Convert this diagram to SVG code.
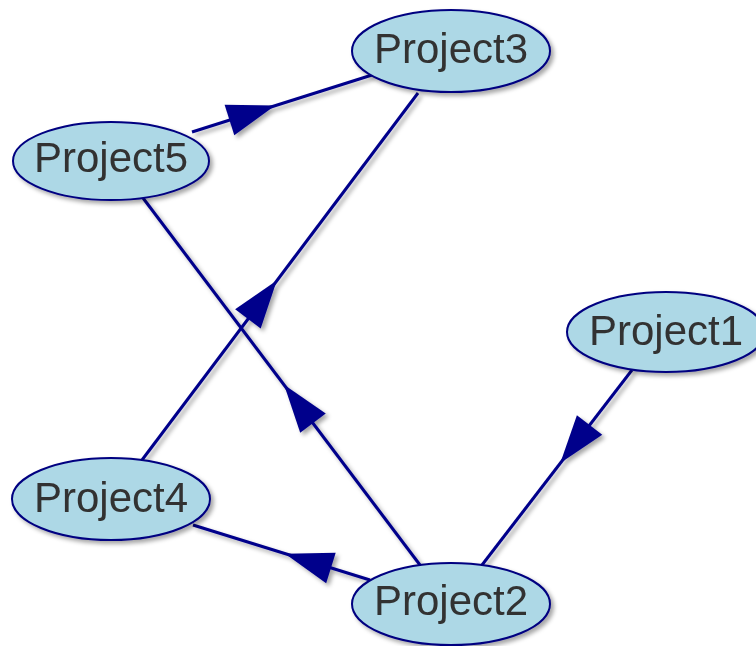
<svg xmlns="http://www.w3.org/2000/svg" xmlns:xlink="http://www.w3.org/1999/xlink" width="756" height="646" viewBox="0 0 756 646">
  <defs>
    <filter id="shadow" x="-20%" y="-20%" width="150%" height="150%">
      <feDropShadow dx="3" dy="3" stdDeviation="2.2" flood-color="#000" flood-opacity="0.35"/>
    </filter>
    <!-- arrowhead: tip at origin, pointing along +x -->
    <path id="ah" d="M0,0 L-48,-16 L-48,16 Z"/>
    <style>
      .node ellipse { fill: #add8e6; stroke: #000080; stroke-width: 2; }
      .node text { font-family: "Liberation Sans", Arial, sans-serif; font-size: 42px; fill: #333333; text-anchor: middle; }
      .edge line { stroke: #00008b; stroke-width: 3; }
      .edge use { fill: #00008b; }
    </style>
  </defs>
  <rect width="756" height="646" fill="#ffffff"/>

  <g id="edges" filter="url(#shadow)">
    <g class="edge" id="e-p5-p3">
      <line x1="192" y1="132" x2="372" y2="75"/>
      <use xlink:href="#ah" href="#ah" transform="translate(275.2,105.5) rotate(-17.6)"/>
    </g>
    <g class="edge" id="e-p4-p3">
      <line x1="142" y1="460" x2="418" y2="93"/>
      <use xlink:href="#ah" href="#ah" transform="translate(276.8,280.6) rotate(-53)"/>
    </g>
    <g class="edge" id="e-p2-p5">
      <line x1="420" y1="565" x2="143" y2="198"/>
      <use xlink:href="#ah" href="#ah" transform="translate(284.1,384.7) rotate(-127)"/>
    </g>
    <g class="edge" id="e-p1-p2">
      <line x1="632" y1="370" x2="482" y2="565"/>
      <use xlink:href="#ah" href="#ah" transform="translate(560.3,463.1) rotate(127.6)"/>
    </g>
    <g class="edge" id="e-p2-p4">
      <line x1="370" y1="580" x2="193" y2="525"/>
      <use xlink:href="#ah" href="#ah" transform="translate(285.1,553.7) rotate(197.3)"/>
    </g>
  </g>

  <g id="nodes" filter="url(#shadow)">
    <g class="node" id="project3">
      <ellipse cx="451" cy="51" rx="99" ry="41"/>
      <text x="451" y="63">Project3</text>
    </g>
    <g class="node" id="project5">
      <ellipse cx="111" cy="161" rx="98" ry="39"/>
      <text x="111" y="172">Project5</text>
    </g>
    <g class="node" id="project1">
      <ellipse cx="666" cy="332" rx="99" ry="40"/>
      <text x="666" y="345">Project1</text>
    </g>
    <g class="node" id="project4">
      <ellipse cx="111" cy="499" rx="99" ry="41"/>
      <text x="111" y="512">Project4</text>
    </g>
    <g class="node" id="project2">
      <ellipse cx="451" cy="604" rx="99" ry="41"/>
      <text x="451" y="615">Project2</text>
    </g>
  </g>
</svg>
